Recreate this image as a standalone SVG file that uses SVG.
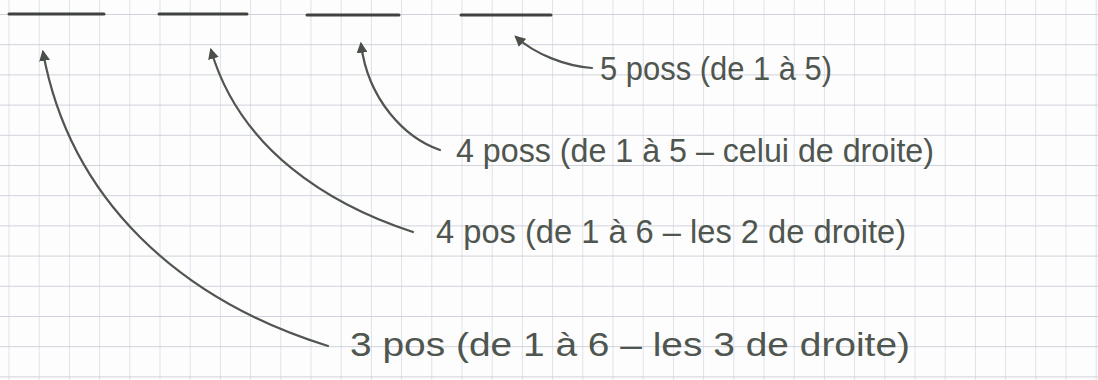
<svg xmlns="http://www.w3.org/2000/svg" width="1098" height="380" viewBox="0 0 1098 380">
<style>
.blank{stroke:#3f423f;stroke-width:3;stroke-linecap:round;fill:none}
.arr{stroke:#505550;stroke-width:2.2;fill:none;stroke-linecap:round;marker-end:url(#ah)}
.lbl{font-family:"Liberation Sans","DejaVu Sans",sans-serif;font-size:34px;fill:#4f554f}
</style>
<defs>
<pattern id="grid" patternUnits="userSpaceOnUse" x="8.5" y="14" width="30.2" height="30.2">
<line x1="0" y1="0" x2="30.2" y2="0" stroke="#b9bccb" stroke-width="1.3"/>
<line x1="0" y1="0" x2="0" y2="30.2" stroke="#c8cbd8" stroke-width="1.1"/>
</pattern>
<marker id="ah" viewBox="0 0 10 10" refX="8" refY="5" markerWidth="5" markerHeight="5" orient="auto" markerUnits="strokeWidth">
<path d="M0,0 L10,5 L0,10 z" fill="#4a4f4a"/>
</marker>
</defs>
<rect width="1098" height="380" fill="#fdfdfd"/>
<rect width="1098" height="380" fill="url(#grid)"/>
<g id="blank1"><line class="blank" x1="9" y1="14" x2="104" y2="14"/></g>
<g id="blank2"><line class="blank" x1="159" y1="14" x2="247" y2="14"/></g>
<g id="blank3"><line class="blank" x1="307" y1="15" x2="399" y2="15"/></g>
<g id="blank4"><line class="blank" x1="461" y1="15" x2="551" y2="15"/></g>
<g id="connectors">
<path class="arr" d="M 592,68 C 565,66 535,54 516,37"/>
<path class="arr" d="M 440,150 C 405,138 368,100 361,44"/>
<path class="arr" d="M 413,232 C 330,205 240,150 211,50"/>
<path class="arr" d="M 328,346 C 180,300 70,200 43,52"/>
</g>
<g id="label4"><text class="lbl" x="600" y="80" textLength="232" lengthAdjust="spacingAndGlyphs">5 poss (de 1 à 5)</text></g>
<g id="label3"><text class="lbl" x="456" y="162" textLength="478" lengthAdjust="spacingAndGlyphs">4 poss (de 1 à 5 – celui de droite)</text></g>
<g id="label2"><text class="lbl" x="436" y="243" textLength="470" lengthAdjust="spacingAndGlyphs">4 pos (de 1 à 6 – les 2 de droite)</text></g>
<g id="label1"><text class="lbl" x="350" y="356" textLength="560" lengthAdjust="spacingAndGlyphs">3 pos (de 1 à 6 – les 3 de droite)</text></g>
</svg>
